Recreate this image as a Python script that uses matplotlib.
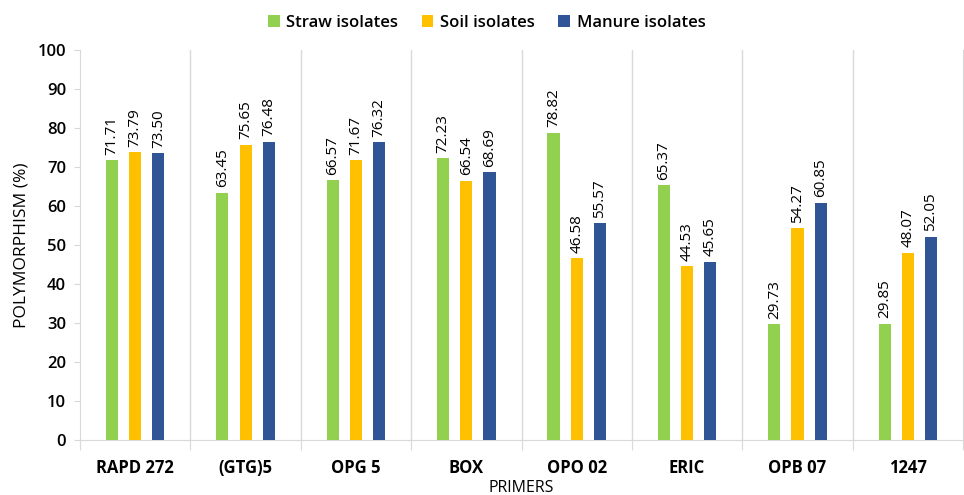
import matplotlib.pyplot as plt
import numpy as np

primers = ['RAPD 272', '(GTG)5', 'OPG 5', 'BOX', 'OPO 02', 'ERIC', 'OPB 07', '1247']
straw = [71.71, 63.45, 66.57, 72.23, 78.82, 65.37, 29.73, 29.85]
soil = [73.79, 75.65, 71.67, 66.54, 46.58, 44.53, 54.27, 48.07]
manure = [73.50, 76.48, 76.32, 68.69, 55.57, 45.65, 60.85, 52.05]

series = [('Straw isolates', straw, '#92D050'),
          ('Soil isolates', soil, '#FFC000'),
          ('Manure isolates', manure, '#2F5597')]

plt.rcParams['font.family'] = ['Open Sans', 'DejaVu Sans']

fig = plt.figure(figsize=(9.64, 4.95), dpi=100)
ax = fig.add_axes([0.083, 0.111, 0.916, 0.788])

x = np.arange(len(primers))
width = 0.11
spacing = 0.21
gray = '#D9D9D9'

for i, (name, vals, color) in enumerate(series):
    pos = x + (i - 1) * spacing
    bars = ax.bar(pos, vals, width, color=color, label=name, zorder=3)
    for b, v in zip(bars, vals):
        ax.annotate(f'{v:.2f}', (b.get_x() + b.get_width() / 2, v),
                    xytext=(0, 4), textcoords='offset points',
                    rotation=90, ha='center', va='bottom', fontsize=11)

ax.set_xlim(-0.5, len(primers) - 0.5)
ax.set_ylim(0, 100)
ax.set_yticks(range(0, 101, 10))
ax.tick_params(axis='y', labelsize=12, length=4, color=gray, pad=6)

# category separators
ax.set_xticks(np.arange(-0.5, len(primers), 1))
ax.set_xticklabels([])
ax.set_xticks(x, minor=True)
ax.set_xticklabels(primers, minor=True, fontsize=12, fontweight='bold')
ax.tick_params(axis='x', which='major', length=7, color=gray)
ax.tick_params(axis='x', which='minor', length=0, pad=14)
for b in np.arange(0.5, len(primers) - 0.5, 1):
    ax.axvline(b, color=gray, lw=1, zorder=1)
for lbl in ax.get_yticklabels():
    lbl.set_fontweight('semibold')

ax.spines['top'].set_visible(False)
ax.spines['left'].set_color(gray)
ax.spines['bottom'].set_color(gray)
ax.spines['right'].set_color(gray)

ax.set_ylabel('POLYMORPHISM (%)', fontsize=12.5, labelpad=6)
ax.set_xlabel('PRIMERS', fontsize=11.5, labelpad=2)

fig.legend(loc='upper center', bbox_to_anchor=(0.505, 1.0), ncol=3, frameon=False,
           handlelength=0.7, handleheight=0.7, columnspacing=1.4,
           handletextpad=0.4, prop={'weight': 'semibold', 'size': 12})

fig.savefig('out.png', dpi=100)
